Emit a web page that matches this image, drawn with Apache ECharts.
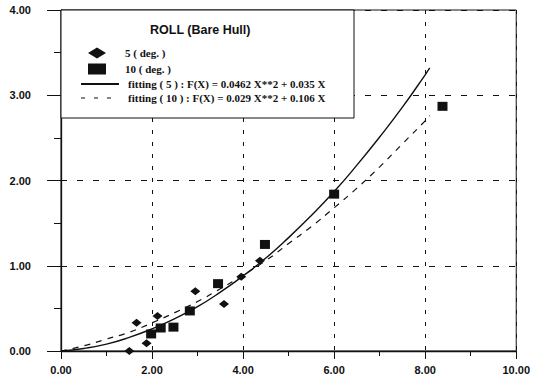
<!DOCTYPE html>
<html>
<head>
<meta charset="utf-8">
<script src="https://cdn.jsdelivr.net/npm/echarts@6/dist/echarts.min.js"></script>
<style>
  html, body { margin: 0; padding: 0; background: #fff; }
  #chart { width: 533px; height: 383px; }
</style>
</head>
<body>
<div id="chart"></div>
<script>
// Measured roll response for the bare hull
const deg5X = [1.50, 1.66, 1.88, 2.12, 2.95, 3.58, 3.96, 4.37];
const deg5Y = [0.00, 0.33, 0.09, 0.41, 0.70, 0.55, 0.87, 1.06];
const deg10X = [1.98, 2.19, 2.47, 2.83, 3.45, 4.48, 6.00, 8.38];
const deg10Y = [0.20, 0.27, 0.28, 0.47, 0.79, 1.25, 1.84, 2.87];

// Fitted curves, sampled along x
const fitX    = [0, 0.5, 1, 1.5, 2, 2.5, 3, 3.5, 4, 4.5, 5, 5.5, 6, 6.5, 7, 7.5, 8, 8.1];
const fit5Y   = [0, 0.03, 0.08, 0.16, 0.26, 0.38, 0.52, 0.69, 0.88, 1.09, 1.33, 1.59, 1.87, 2.18, 2.51, 2.86, 3.24, 3.32];
const fit10Y  = [0, 0.06, 0.14, 0.22, 0.33, 0.45, 0.58, 0.73, 0.89, 1.06, 1.26, 1.46, 1.68, 1.91, 2.16, 2.43, 2.70, 2.76];

const chartTitle = 'ROLL (Bare Hull)';
const seriesNames = [
  '5 ( deg. )',
  '10 ( deg. )',
  'fitting ( 5 ) : F(X) = 0.0462 X**2 + 0.035 X',
  'fitting ( 10 ) : F(X) = 0.029 X**2 + 0.106 X'
];

const pairs = (xs, ys) => xs.map((x, i) => [x, ys[i]]);
const ink = '#111';
const tickFont = { color: ink, fontFamily: 'Liberation Sans', fontWeight: 'bold', fontSize: 11 };
const legendFont = { color: ink, fontFamily: 'Liberation Serif', fontWeight: 'bold', fontSize: 11, lineHeight: 12 };

const chart = echarts.init(document.getElementById('chart'), null, { renderer: 'svg' });

chart.setOption({
  backgroundColor: '#fff',
  animation: false,
  grid: {
    left: 61, right: 10, top: 10, bottom: 32,
    show: true, borderColor: ink, borderWidth: 1, backgroundColor: 'transparent'
  },
  title: {
    text: chartTitle,
    left: 150, top: 23,
    padding: 0,
    z: 30,
    textStyle: { color: ink, fontFamily: 'Liberation Sans', fontWeight: 'bold', fontSize: 12.5 }
  },
  // white legend panel in the upper-left corner of the plot
  graphic: [{
    type: 'rect',
    z: 20,
    shape: { x: 61, y: 10, width: 293, height: 108 },
    style: { fill: '#fff', stroke: ink, lineWidth: 1 }
  }],
  legend: [{
    orient: 'vertical',
    left: 88, top: 47,
    padding: 0,
    z: 30,
    itemWidth: 18, itemHeight: 11,
    itemGap: 4,
    symbolKeepAspect: false,
    selectedMode: false,
    textStyle: Object.assign({ padding: [0, 0, 0, 14] }, legendFont),
    data: [
      { name: seriesNames[0], icon: 'diamond' },
      { name: seriesNames[1], icon: 'rect' }
    ]
  }, {
    orient: 'vertical',
    left: 80, top: 78,
    padding: 0,
    z: 30,
    itemWidth: 38, itemHeight: 10,
    itemGap: 2,
    selectedMode: false,
    textStyle: Object.assign({ padding: [0, 0, 0, 4] }, legendFont),
    data: [
      { name: seriesNames[2], itemStyle: { opacity: 0 } },
      { name: seriesNames[3], itemStyle: { opacity: 0 }, lineStyle: { type: [4, 9], width: 1.2 } }
    ]
  }],
  xAxis: {
    type: 'value',
    min: 0, max: 10, interval: 2,
    axisLine: { show: true, lineStyle: { color: ink, width: 1.3 } },
    axisTick: { show: true, length: 8, lineStyle: { color: ink } },
    minorTick: { show: true, splitNumber: 2, length: 5, lineStyle: { color: ink } },
    axisLabel: Object.assign({ margin: 13, formatter: v => v.toFixed(2) }, tickFont),
    splitLine: { show: true, lineStyle: { color: ink, width: 1, type: [4, 8] } }
  },
  yAxis: {
    type: 'value',
    min: 0, max: 4, interval: 1,
    axisLine: { show: true, lineStyle: { color: ink, width: 1.3 } },
    axisTick: { show: true, length: 14, lineStyle: { color: ink } },
    minorTick: { show: true, splitNumber: 2, length: 7, lineStyle: { color: ink } },
    axisLabel: Object.assign({ margin: 30, formatter: v => v.toFixed(2) }, tickFont),
    splitLine: { show: true, lineStyle: { color: ink, width: 1, type: [6, 10] } }
  },
  series: [{
    name: seriesNames[0],
    type: 'scatter',
    symbol: 'diamond',
    symbolSize: [10, 8],
    itemStyle: { color: ink, opacity: 1 },
    z: 5,
    data: pairs(deg5X, deg5Y)
  }, {
    name: seriesNames[1],
    type: 'scatter',
    symbol: 'rect',
    symbolSize: [10, 9],
    itemStyle: { color: ink, opacity: 1 },
    z: 5,
    data: pairs(deg10X, deg10Y)
  }, {
    name: seriesNames[2],
    type: 'line',
    smooth: true,
    symbol: 'none',
    lineStyle: { color: ink, width: 1.4, type: 'solid' },
    itemStyle: { color: ink },
    z: 4,
    data: pairs(fitX, fit5Y)
  }, {
    name: seriesNames[3],
    type: 'line',
    smooth: true,
    symbol: 'none',
    lineStyle: { color: ink, width: 1.2, type: [6, 6] },
    itemStyle: { color: ink },
    z: 4,
    data: pairs(fitX, fit10Y)
  }]
});
</script>
</body>
</html>
